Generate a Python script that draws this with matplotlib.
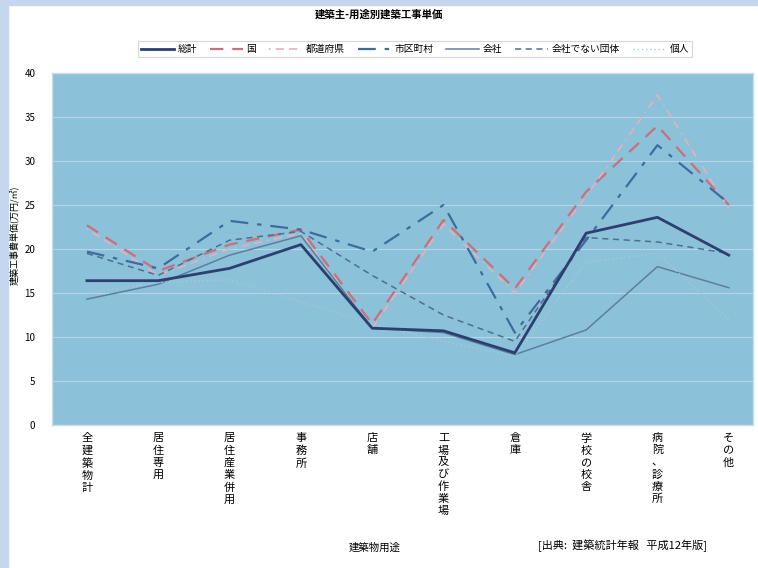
import numpy as np
import matplotlib
matplotlib.use("Agg")
import matplotlib.pyplot as plt
from matplotlib.patches import Rectangle

plt.rcParams['font.family'] = ['Noto Sans CJK JP', 'DejaVu Sans']

# 用途 (x軸)
youto = ["全建築物計", "居住専用", "居住産業併用", "事務所", "店舗",
         "工場及び作業場", "倉庫", "学校の校舎", "病院、診療所", "その他"]

# 建築主別 単価 (万円/㎡) - 図から読み取り
soukei = [16.4, 16.4, 17.8, 20.5, 11.0, 10.7, 8.2, 21.8, 23.6, 19.3]
kuni = [22.7, 17.5, 20.5, 22.2, 11.5, 23.3, 15.5, 26.5, 34.0, 25.0]
todoufuken = [22.3, 17.0, 20.0, 21.8, 11.0, 22.8, 15.0, 26.0, 37.5, 24.6]
shikuchouson = [19.7, 17.8, 23.2, 22.2, 19.7, 25.0, 10.5, 21.0, 31.8, 25.2]
kaisha = [14.3, 16.0, 19.3, 21.5, 11.0, 10.5, 8.0, 10.8, 18.0, 15.6]
dantai = [19.5, 17.0, 21.0, 22.0, 17.0, 12.5, 9.5, 21.3, 20.8, 19.5]
kojin = [15.0, 16.2, 16.5, 14.0, 11.5, 9.5, 7.8, 18.5, 19.5, 12.0]

fig = plt.figure(figsize=(7.58, 5.68), dpi=100)
fig.patch.set_facecolor("white")
# 外枠の薄い青
fig.patches.append(Rectangle((0, 0), 8 / 758, 1, transform=fig.transFigure,
                             color="#c5d6ee", zorder=-5))
fig.patches.append(Rectangle((0, 1 - 5 / 568), 1, 5 / 568, transform=fig.transFigure,
                             color="#c5d6ee", zorder=-5))

ax = fig.add_axes([52 / 758, 143 / 568, 701 / 758, 352 / 568])
ax.set_facecolor("#8cc1da")

x = np.arange(len(youto))
ax.plot(x, soukei, color="#2c3f6e", lw=2.0, label="総計", zorder=5)
ax.plot(x, kuni, color="#c8707c", lw=1.6, ls=(0, (6, 4)), label="国")
ax.plot(x, todoufuken, color="#e6b0bc", lw=1.2, ls=(0, (1, 3, 5, 3, 5, 3)), label="都道府県")
ax.plot(x, shikuchouson, color="#3e6d9c", lw=1.6, ls=(0, (8, 4, 2, 4)), label="市区町村")
ax.plot(x, kaisha, color="#5d7f9e", lw=1.1, label="会社")
ax.plot(x, dantai, color="#4d6f90", lw=1.1, ls=(0, (4, 3)), label="会社でない団体")
ax.plot(x, kojin, color="#a8c8dc", lw=1.0, ls=(0, (1, 2)), label="個人")

ax.set_ylim(0, 40)
ax.set_yticks(np.arange(0, 41, 5))
ax.set_xlim(-0.49, 9.34)
ax.set_xticks(x)
ax.set_xticklabels(["\n".join(s) for s in youto], fontsize=8, va="top", linespacing=1.25)
ax.tick_params(axis="y", labelsize=7, length=0, pad=12)
ax.tick_params(axis="x", length=0, pad=6)
ax.yaxis.grid(True, color="#b4d6e8", lw=0.8)
ax.set_axisbelow(True)
for s in ax.spines.values():
    s.set_color("#c8dde8")
    s.set_linewidth(1.0)

# 縦軸ラベル
fig.text(14 / 758, 1 - 235 / 568, "建築工事費単価(万円/㎡)", rotation=90,
         ha="center", va="center", fontsize=6.5)

fig.text(0.5, 0.975, "建築主-用途別建築工事単価", ha="center", va="center",
         fontsize=7.5, fontweight="bold")
fig.text(375 / 758, 1 - 548 / 568, "建築物用途", ha="center", va="center", fontsize=7.5)
fig.text(622 / 758, 1 - 546 / 568, "[出典:  建築統計年報   平成12年版]", ha="center",
         va="center", fontsize=8)

leg = fig.legend(loc="center", bbox_to_anchor=(415 / 758, 1 - 49 / 568), ncol=7,
                 fontsize=7, frameon=True, fancybox=False, edgecolor="#cccccc",
                 handlelength=3.4, handletextpad=0.4, columnspacing=1.3,
                 borderpad=0.3)
leg.get_frame().set_linewidth(0.8)

fig.savefig("out.png", dpi=100)
